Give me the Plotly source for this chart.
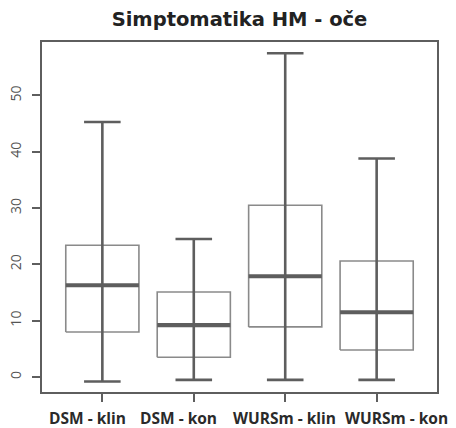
import plotly.graph_objects as go

# Summary statistics per group
categories = ["DSM - klin", "DSM - kon", "WURSm - klin", "WURSm - kon"]
lower_whisker = [-0.8, -0.5, -0.5, -0.5]
q1 = [8.0, 3.5, 8.9, 4.8]
median = [16.3, 9.2, 17.9, 11.5]
q3 = [23.4, 15.1, 30.5, 20.6]
upper_whisker = [45.3, 24.5, 57.5, 38.8]

positions = list(range(1, len(categories) + 1))
box_half = 0.4
cap_half = 0.2

dark = "#5e5e5e"
box_col = "#8a8a8a"

fig = go.Figure()

for x, lo, a, m, b, hi in zip(positions, lower_whisker, q1, median, q3, upper_whisker):
    # box outline
    fig.add_trace(go.Scatter(
        x=[x - box_half, x + box_half, x + box_half, x - box_half, x - box_half],
        y=[a, a, b, b, a], mode="lines",
        line=dict(color=box_col, width=1.6), hoverinfo="skip", showlegend=False))
    # whisker line running through the box
    fig.add_trace(go.Scatter(
        x=[x, x], y=[lo, hi], mode="lines",
        line=dict(color=dark, width=2.6), hoverinfo="skip", showlegend=False))
    # whisker caps
    for v in (lo, hi):
        fig.add_trace(go.Scatter(
            x=[x - cap_half, x + cap_half], y=[v, v], mode="lines",
            line=dict(color=dark, width=2.6), hoverinfo="skip", showlegend=False))
    # median
    fig.add_trace(go.Scatter(
        x=[x - box_half, x + box_half], y=[m, m], mode="lines",
        line=dict(color=dark, width=4.2), hoverinfo="skip", showlegend=False))

# group labels under the ticks, nudged sideways so neighbours don't collide
label_nudge = [-15, -15, -1, 20]
for x, name, dx in zip(positions, categories, label_nudge):
    fig.add_annotation(
        x=x, xref="x", y=0, yref="paper", yanchor="middle", yshift=-26,
        xshift=dx, text=f"<b>{name}</b>", showarrow=False,
        font=dict(family="Open Sans", size=15.5, color="#2a2a2a"))

fig.update_layout(
    width=456, height=428,
    margin=dict(l=42, r=19, t=42, b=36),
    paper_bgcolor="white", plot_bgcolor="white",
    title=dict(text="<b>Simptomatika HM - oče</b>", x=0.5, xref="paper",
               xanchor="center", y=1 - 19 / 428, yanchor="middle",
               font=dict(family="DejaVu Sans", size=19.5, color="#222222")),
    xaxis=dict(range=[0.34, 4.66], tickmode="array", tickvals=positions,
               ticktext=["" for _ in categories],
               ticks="outside", ticklen=8, tickwidth=2, tickcolor=dark,
               automargin=False,
               showgrid=False, zeroline=False, showline=True, linecolor=dark,
               linewidth=1.5, mirror=True),
    yaxis=dict(range=[-2.66, 59.5], tickmode="array", tickvals=[0, 10, 20, 30, 40, 50],
               ticks="outside", ticklen=8, tickwidth=2, tickcolor=dark,
               tickangle=-90, ticklabelstandoff=6, automargin=False,
               showgrid=False, zeroline=False, showline=True, linecolor=dark,
               linewidth=1.5, mirror=True,
               tickfont=dict(family="Open Sans", size=14, color="#555555")),
)

fig.write_html("out.html")
